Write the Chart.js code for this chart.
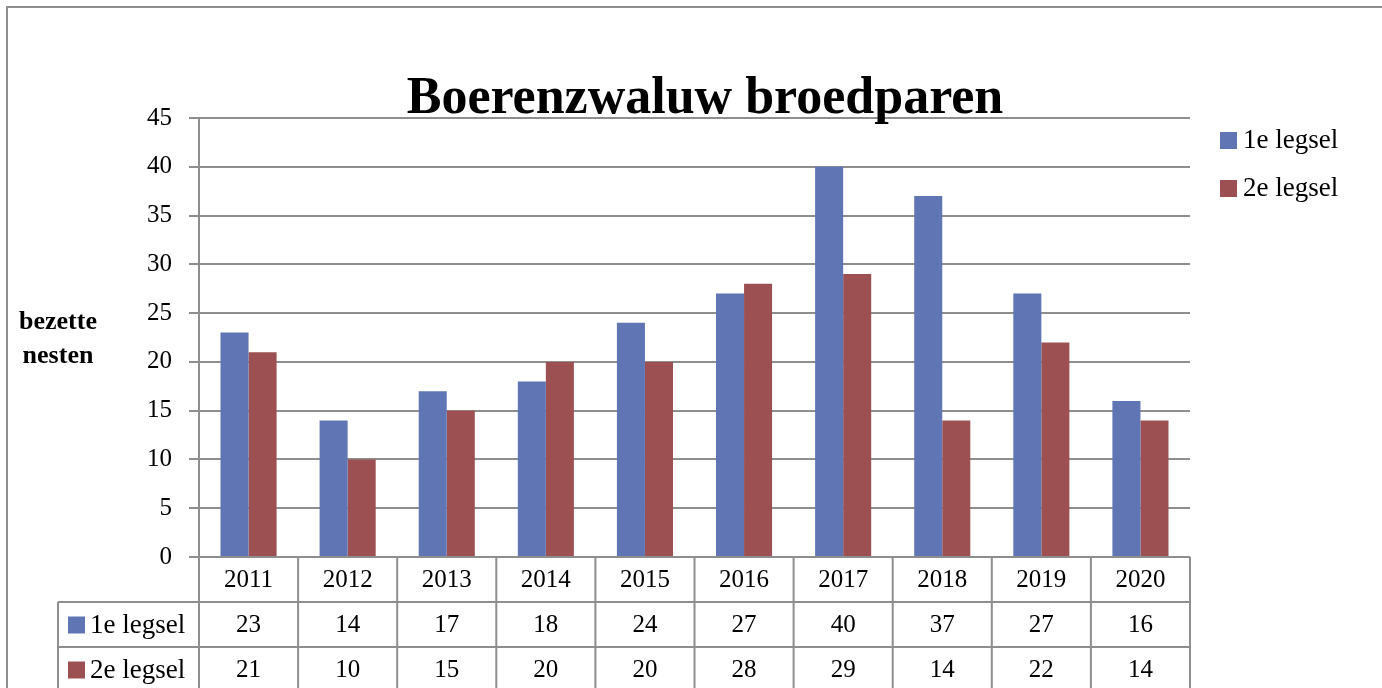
<!DOCTYPE html>
<html>
<head>
<meta charset="utf-8">
<script src="https://cdn.jsdelivr.net/npm/chart.js@4/dist/chart.umd.min.js"></script>
<style>
  html, body { margin: 0; padding: 0; background: #fff; }
  canvas { display: block; }
</style>
</head>
<body>
<canvas id="nestChart" width="1382" height="688"></canvas>
<script>
// Gegevens
const years = ['2011', '2012', '2013', '2014', '2015', '2016', '2017', '2018', '2019', '2020'];
const legsel1 = [23, 14, 17, 18, 24, 27, 40, 37, 27, 16];
const legsel2 = [21, 10, 15, 20, 20, 28, 29, 14, 22, 14];
const seriesNames = ['1e legsel', '2e legsel'];
const chartTitle = 'Boerenzwaluw broedparen';
const yTitleLines = ['bezette', 'nesten'];

const serif = "'Liberation Serif', serif";
const lineGray = '#8e8e8e';
const blue = 'rgb(96, 118, 180)';
const red = 'rgb(157, 80, 82)';

// titel, as-titel, legenda en datatabel tekenen
const excelExtras = {
    id: 'excelExtras',
    afterDraw(chart) {
        const ctx = chart.ctx;
        const area = chart.chartArea;
        const x = chart.scales.x;
        const rowH = 45;
        const top = area.bottom;
        const half = (x.getPixelForTick(1) - x.getPixelForTick(0)) / 2;

        ctx.save();
        // rand
        ctx.strokeStyle = lineGray;
        ctx.lineWidth = 2;
        ctx.beginPath();
        ctx.moveTo(7, chart.height);
        ctx.lineTo(7, 7);
        ctx.lineTo(chart.width, 7);
        ctx.stroke();

        // titel
        ctx.fillStyle = '#000';
        ctx.font = 'bold 52px ' + serif;
        ctx.textAlign = 'center';
        ctx.textBaseline = 'alphabetic';
        ctx.fillText(chartTitle, 705, 113);

        // y-as titel
        ctx.font = 'bold 26px ' + serif;
        ctx.textBaseline = 'middle';
        yTitleLines.forEach((t, i) => ctx.fillText(t, 58, 322 + i * 34));

        // legenda
        ctx.font = '27px ' + serif;
        ctx.textAlign = 'left';
        chart.data.datasets.forEach((ds, i) => {
            const cy = 140 + i * 48;
            ctx.fillStyle = ds.backgroundColor;
            ctx.fillRect(1220, cy - 8, 17, 17);
            ctx.fillStyle = '#000';
            ctx.fillText(ds.label, 1243, cy + 1);
        });

        // tabel lijnen
        ctx.strokeStyle = lineGray;
        ctx.lineWidth = 2;
        ctx.beginPath();
        for (let r = 1; r <= 2; r++) {
            ctx.moveTo(58, top + r * rowH);
            ctx.lineTo(area.right + 1, top + r * rowH);
        }
        ctx.moveTo(58, top + rowH);
        ctx.lineTo(58, chart.height);
        for (let i = 0; i <= years.length; i++) {
            const bx = i < years.length ? x.getPixelForTick(i) - half : x.getPixelForTick(i - 1) + half;
            ctx.moveTo(bx, top);
            ctx.lineTo(bx, chart.height);
        }
        ctx.stroke();

        // tabel tekst
        ctx.fillStyle = '#000';
        ctx.textAlign = 'center';
        ctx.font = '25px ' + serif;
        years.forEach((y, i) => ctx.fillText(y, x.getPixelForTick(i), top + rowH / 2 + 1));
        chart.data.datasets.forEach((ds, r) => {
            const cy = top + rowH * (r + 1) + rowH / 2 + 1;
            ctx.font = '25px ' + serif;
            ds.data.forEach((v, i) => ctx.fillText(String(v), x.getPixelForTick(i), cy));
            ctx.fillStyle = ds.backgroundColor;
            ctx.fillRect(68, cy - 9, 17, 17);
            ctx.fillStyle = '#000';
            ctx.textAlign = 'left';
            ctx.font = '27px ' + serif;
            ctx.fillText(ds.label, 90, cy);
            ctx.textAlign = 'center';
        });
        ctx.restore();
    }
};

new Chart(document.getElementById('nestChart').getContext('2d'), {
    type: 'bar',
    data: {
        labels: years,
        datasets: [
            { label: seriesNames[0], data: legsel1, backgroundColor: blue, borderWidth: 0 },
            { label: seriesNames[1], data: legsel2, backgroundColor: red, borderWidth: 0 }
        ]
    },
    options: {
        responsive: false,
        animation: false,
        devicePixelRatio: 1,
        layout: { padding: { left: 7, right: 192, top: 118, bottom: 131 } },
        datasets: { bar: { categoryPercentage: 0.566, barPercentage: 1 } },
        plugins: { legend: { display: false }, title: { display: false }, tooltip: { enabled: false } },
        scales: {
            x: { display: false },
            y: {
                min: 0,
                max: 45,
                afterFit: s => { s.width = 192; },
                ticks: { stepSize: 5, color: '#000', padding: 17, font: { family: serif, size: 25 } },
                grid: { color: lineGray, lineWidth: 2, tickLength: 10 },
                border: { color: lineGray, width: 2 }
            }
        }
    },
    plugins: [excelExtras]
});
</script>
</body>
</html>
